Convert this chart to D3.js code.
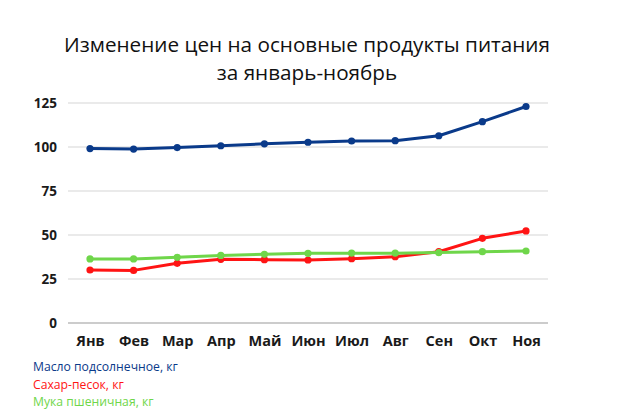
<!DOCTYPE html>
<html><head><meta charset="utf-8">
<script src="https://cdn.jsdelivr.net/npm/d3@7"></script>
<style>body{margin:0;background:#fff;}svg{display:block;font-family:"Open Sans",sans-serif;}</style>
</head><body><svg id="c" width="630" height="420"></svg>
<script>
const months = ["Янв","Фев","Мар","Апр","Май","Июн","Июл","Авг","Сен","Окт","Ноя"];
const oil = [99.1, 98.8, 99.7, 100.7, 101.8, 102.7, 103.4, 103.6, 106.4, 114.4, 123.0];
const sugar = [30.1, 29.9, 33.9, 36.2, 36.0, 35.8, 36.5, 37.7, 40.5, 48.1, 52.3];
const flour = [36.4, 36.4, 37.3, 38.4, 39.0, 39.6, 39.7, 39.7, 40.0, 40.5, 40.9];
const yTicks = [0, 25, 50, 75, 100, 125];
const seriesNames = ["Масло подсолнечное, кг","Сахар-песок, кг","Мука пшеничная, кг"];
const colors = ["#0a3a8a","#ff1414","#6fd64a"];
const series = [oil, sugar, flour];

const svg = d3.select("#c");
const x = d3.scalePoint().domain(months).range([90, 526]);
const y = d3.scaleLinear().domain([0,125]).range([323,103]);

// grid
svg.append("g").selectAll("line").data(yTicks).join("line")
  .attr("x1",68).attr("x2",548).attr("y1",d=>y(d)).attr("y2",d=>y(d))
  .attr("stroke",d=>d===0?"#9a9a9a":"#d6d6d6").attr("stroke-width",1.2);

// y labels
svg.append("g").selectAll("text").data(yTicks).join("text")
  .attr("x",57).attr("y",d=>y(d)+5).attr("text-anchor","end")
  .attr("font-size",13.5).attr("font-weight","bold").attr("fill","#1a1a1a").text(d=>d);

// x labels
const xa = d3.axisBottom(x).tickSize(0).tickPadding(0);
const gx = svg.append("g").attr("transform","translate(0,323)").call(xa);
gx.select(".domain").remove();
gx.selectAll("text").attr("y",23).attr("dy",0).attr("font-size",14.5).attr("font-weight","bold")
  .attr("fill","#1a1a1a").attr("font-family","'Open Sans',sans-serif");

const line = d3.line().x((d,i)=>x(months[i])).y(d=>y(d));
series.forEach((s,k)=>{
  svg.append("path").datum(s).attr("d",line).attr("fill","none")
    .attr("stroke",colors[k]).attr("stroke-width",3).attr("stroke-linejoin","round");
  svg.append("g").selectAll("circle").data(s).join("circle")
    .attr("cx",(d,i)=>x(months[i])).attr("cy",d=>y(d)).attr("r",3.6).attr("fill",colors[k]);
});

// title
svg.append("text").attr("x",307).attr("y",52).attr("text-anchor","middle")
  .attr("font-size",20.7).attr("fill","#111").text("Изменение цен на основные продукты питания");
svg.append("text").attr("x",307).attr("y",80).attr("text-anchor","middle")
  .attr("font-size",20.7).attr("fill","#111").text("за январь-ноябрь");

// legend
svg.append("g").selectAll("text").data(seriesNames).join("text")
  .attr("x",33).attr("y",(d,i)=>371+i*17.5).attr("font-size",12.2)
  .attr("fill",(d,i)=>colors[i]).text(d=>d);
</script></body></html>
